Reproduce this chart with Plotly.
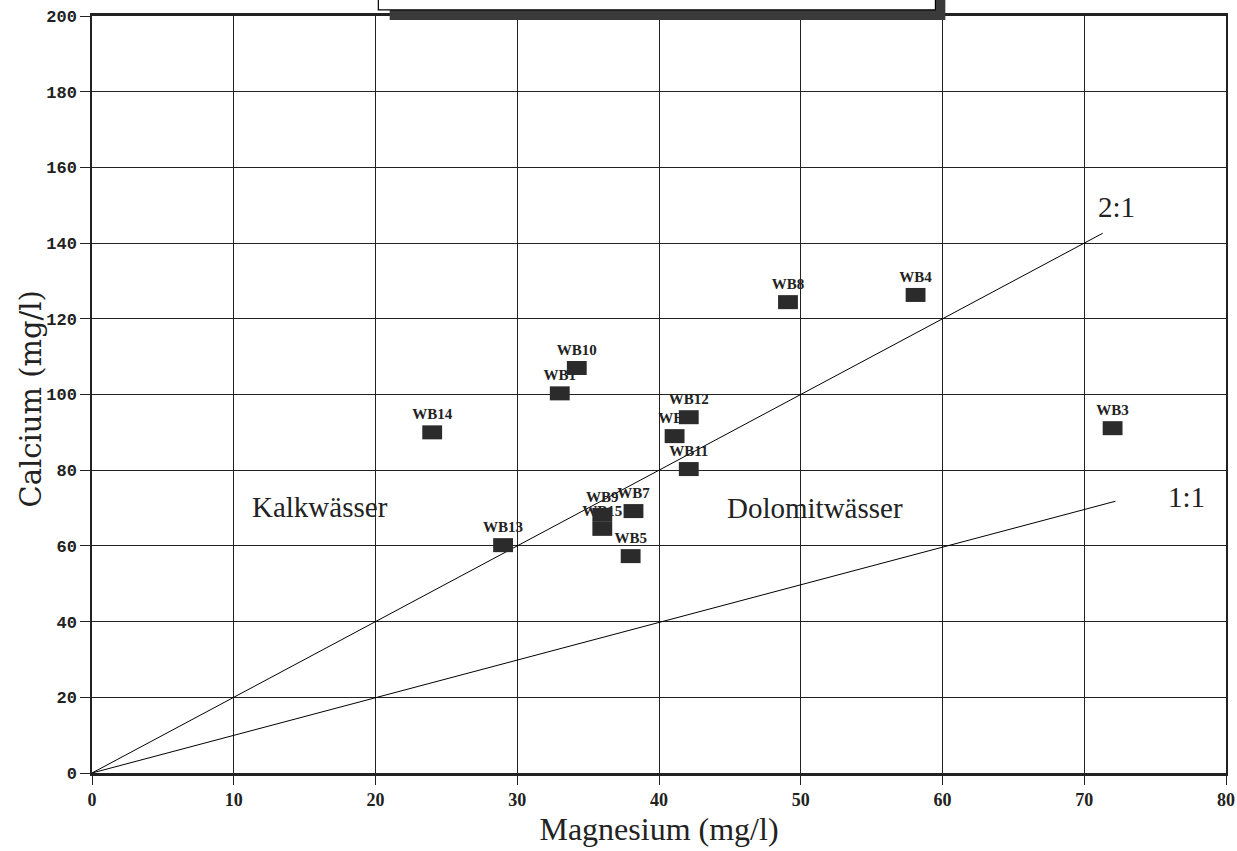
import plotly.graph_objects as go

# Data
labels = ["WB14", "WB13", "WB1", "WB10", "WB9", "WB15", "WB7", "WB5",
          "WB2", "WB12", "WB11", "WB8", "WB4", "WB3"]
magnesium = [24.0, 29.0, 33.0, 34.2, 36.0, 36.0, 38.2, 38.0,
             41.1, 42.1, 42.1, 49.1, 58.1, 72.0]
calcium = [90.0, 60.2, 100.3, 107.0, 68.2, 64.5, 69.2, 57.3,
           89.0, 94.0, 80.3, 124.4, 126.3, 91.1]

line21_x = [0, 71.3]
line21_y = [0, 142.6]
line11_x = [0, 72.2]
line11_y = [0, 71.8]

region_labels = ["Kalkwässer", "Dolomitwässer", "2:1", "1:1"]
region_x = [16.1, 51.0, 72.3, 77.2]
region_y = [70.3, 70.0, 149.5, 73.0]

xticks = [0, 10, 20, 30, 40, 50, 60, 70, 80]
yticks = [0, 20, 40, 60, 80, 100, 120, 140, 160, 180, 200]

SERIF = "Liberation Serif, DejaVu Serif, serif"
WIDE_SERIF = "DejaVu Serif, Liberation Serif, serif"
MONO = "Liberation Mono, DejaVu Sans Mono, monospace"
INK = "#222222"

fig = go.Figure()

fig.add_trace(go.Scatter(x=line21_x, y=line21_y, mode="lines",
                         line=dict(color="black", width=1), hoverinfo="skip",
                         showlegend=False))
fig.add_trace(go.Scatter(x=line11_x, y=line11_y, mode="lines",
                         line=dict(color="black", width=1), hoverinfo="skip",
                         showlegend=False))

# Rectangular markers drawn from data through the axis scales
dx, dy = 0.7, 1.85
shapes = []
for mx, cy in zip(magnesium, calcium):
    shapes.append(dict(type="rect", xref="x", yref="y",
                       x0=mx - dx, x1=mx + dx, y0=cy - dy, y1=cy + dy,
                       fillcolor="#2b2b2b", line=dict(width=0), layer="above"))

# Decorative legend box cut off at the top
shapes.append(dict(type="rect", xref="x", yref="paper", x0=21.0, x1=60.2,
                   y0=0.9947, y1=1.03, fillcolor="#3a3a3a", line=dict(width=0),
                   layer="above"))
shapes.append(dict(type="rect", xref="x", yref="paper", x0=20.2, x1=59.5,
                   y0=1.008, y1=1.04, fillcolor="white",
                   line=dict(color="black", width=1.2), layer="above"))

fig.add_trace(go.Scatter(x=magnesium, y=calcium, mode="markers+text",
                         text=labels, textposition="top center",
                         marker=dict(symbol="square", size=13, opacity=0),
                         textfont=dict(family=SERIF, size=15, color=INK,
                                       weight="bold"),
                         showlegend=False, cliponaxis=False))

annotations = []
for t, x, y in zip(region_labels, region_x, region_y):
    annotations.append(dict(x=x, y=y, xref="x", yref="y", text=t,
                            showarrow=False,
                            font=dict(family=SERIF, size=29, color=INK)))

# y-axis title placed as a rotated annotation
annotations.append(dict(x=0, y=0.5, xref="paper", yref="paper",
                        text="Calcium (mg/l)", textangle=-90, showarrow=False,
                        xanchor="center", yanchor="middle", xshift=-62,
                        yshift=-5,
                        font=dict(family=WIDE_SERIF, size=29, color=INK)))

fig.update_layout(
    width=1237, height=851,
    margin=dict(l=92, r=11, t=16, b=78),
    paper_bgcolor="white", plot_bgcolor="white",
    shapes=shapes, annotations=annotations,
    showlegend=False,
    xaxis=dict(range=[0, 80], tickvals=xticks, ticks="outside", ticklen=9,
               tickcolor=INK, showgrid=True, gridcolor=INK, gridwidth=1,
               showline=True, linecolor=INK, linewidth=2.5, mirror=True,
               zeroline=False, automargin=False, ticklabeloverflow="allow",
               tickfont=dict(family=SERIF, size=18, color=INK, weight="bold"),
               title=dict(text="Magnesium (mg/l)", standoff=9,
                          font=dict(family=SERIF, size=32, color=INK))),
    yaxis=dict(range=[0, 200], tickvals=yticks, ticks="outside", ticklen=10,
               tickcolor=INK, showgrid=True, gridcolor=INK, gridwidth=1,
               showline=True, linecolor=INK, linewidth=1.5, mirror=True,
               zeroline=False, automargin=False, ticklabeloverflow="allow",
               tickfont=dict(family=MONO, size=17, color=INK, weight="bold")),
)

fig.write_html("out.html",
               config={"displayModeBar": False},
               post_script="document.body.style.margin='0px';"
                           "document.body.style.overflow='hidden';")
